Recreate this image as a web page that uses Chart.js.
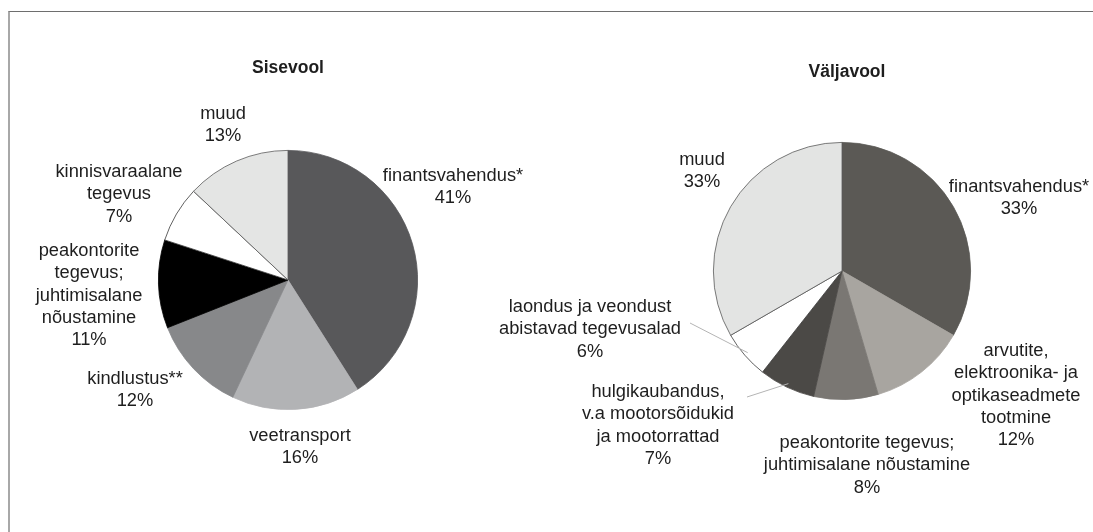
<!DOCTYPE html>
<html><head><meta charset="utf-8">
<script src="https://cdn.jsdelivr.net/npm/chart.js@4/dist/chart.umd.min.js"></script>
<style>
html,body{margin:0;padding:0;background:#fff;}
#wrap{position:relative;width:1093px;height:532px;overflow:hidden;background:#fff;}
#frame{position:absolute;left:8px;top:11px;width:1100px;height:540px;border-top:1px solid #6e6e6e;border-left:2px solid #a8a8a8;}
canvas{position:absolute;left:0;top:0;}
</style></head><body>
<div id="wrap"><div id="frame"></div>
<canvas id="c1" width="1093" height="532"></canvas>
<canvas id="c2" width="1093" height="532"></canvas>
</div>
<script>
// ---- data ----
const sisevoolTitle = 'Sisevool';
const sisevoolCategories = [
  ['finantsvahendus*'],
  ['veetransport'],
  ['kindlustus**'],
  ['peakontorite', 'tegevus;', 'juhtimisalane', 'nõustamine'],
  ['kinnisvaraalane', 'tegevus'],
  ['muud']
];
const sisevoolValues = [41, 16, 12, 11, 7, 13];

const valjavoolTitle = 'Väljavool';
const valjavoolCategories = [
  ['finantsvahendus*'],
  ['arvutite,', 'elektroonika- ja', 'optikaseadmete', 'tootmine'],
  ['peakontorite tegevus;', 'juhtimisalane nõustamine'],
  ['hulgikaubandus,', 'v.a mootorsõidukid', 'ja mootorrattad'],
  ['laondus ja veondust', 'abistavad tegevusalad'],
  ['muud']
];
const valjavoolValues = [33, 12, 8, 7, 6, 33];

// ---- styles ----
const sisevoolColors = ['#58585a', '#b2b3b5', '#87888a', '#000000', '#ffffff', '#e4e5e4'];
const sisevoolBorders = ['#58585a', '#b2b3b5', '#87888a', '#000000', '#3a3a3a', '#5a5a5a'];
const valjavoolColors = ['#5b5955', '#a8a5a0', '#7a7773', '#4b4946', '#ffffff', '#e3e4e3'];
const valjavoolBorders = ['#5b5955', '#a8a5a0', '#7a7773', '#4b4946', '#3a3a3a', '#5a5a5a'];

const FONT = '"Liberation Sans", Arial, Helvetica, sans-serif';
const LINE_H = 22.3;

const labelPlugin = {
  id: 'pieLabels',
  afterDraw(chart, args, opts) {
    const ctx = chart.ctx;
    const meta = chart.getDatasetMeta(0);
    const arc0 = meta.data[0];
    const cx = arc0.x, cy = arc0.y, r = arc0.outerRadius;
    const cats = chart.data.labels;
    const vals = chart.data.datasets[0].data;
    ctx.save();
    // leader lines
    ctx.strokeStyle = '#b4b4b4';
    ctx.lineWidth = 1;
    (opts.leaders || []).forEach(l => {
      const a = meta.data[l.index];
      const mid = (a.startAngle + a.endAngle) / 2;
      const ex = cx + Math.cos(mid) * r * 0.97;
      const ey = cy + Math.sin(mid) * r * 0.97;
      ctx.beginPath();
      ctx.moveTo(cx + l.from[0], cy + l.from[1]);
      ctx.lineTo(ex, ey);
      ctx.stroke();
    });
    // title
    ctx.fillStyle = '#1e1e1e';
    ctx.textAlign = 'center';
    ctx.textBaseline = 'alphabetic';
    ctx.font = 'bold 17.5px ' + FONT;
    ctx.fillText(opts.title, cx + opts.titlePos[0], cy + opts.titlePos[1]);
    // labels
    ctx.font = '18.3px ' + FONT;
    cats.forEach((lines, i) => {
      const all = lines.concat([vals[i] + '%']);
      const p = opts.pos[i];
      all.forEach((t, k) => {
        ctx.fillText(t, cx + p[0], cy + p[1] + k * LINE_H);
      });
    });
    ctx.restore();
  }
};

function makePie(id, cats, vals, colors, borders, padding, plugOpts) {
  return new Chart(document.getElementById(id), {
    type: 'pie',
    data: {
      labels: cats,
      datasets: [{
        data: vals,
        backgroundColor: colors,
        borderColor: borders,
        borderWidth: 0.8
      }]
    },
    options: {
      responsive: false,
      animation: false,
      devicePixelRatio: 1,
      layout: { padding: padding },
      plugins: {
        legend: { display: false },
        tooltip: { enabled: false },
        title: { display: false },
        pieLabels: plugOpts
      },
      events: []
    },
    plugins: [labelPlugin]
  });
}

makePie('c1', sisevoolCategories, sisevoolValues, sisevoolColors, sisevoolBorders,
  { left: 158, right: 675, top: 150, bottom: 122 },
  {
    title: sisevoolTitle,
    titlePos: [0, -207],
    pos: [[165, -99], [12, 161], [-153, 104], [-199, -24], [-169, -103], [-65, -161]],
    leaders: []
  });

makePie('c2', valjavoolCategories, valjavoolValues, valjavoolColors, valjavoolBorders,
  { left: 713, right: 122, top: 142, bottom: 132 },
  {
    title: valjavoolTitle,
    titlePos: [5, -194],
    pos: [[177, -79], [174, 85], [25, 177], [-184, 126], [-252, 41], [-140, -106]],
    leaders: [
      { index: 4, from: [-152, 52] },
      { index: 3, from: [-95, 126] }
    ]
  });
</script>
</body></html>
